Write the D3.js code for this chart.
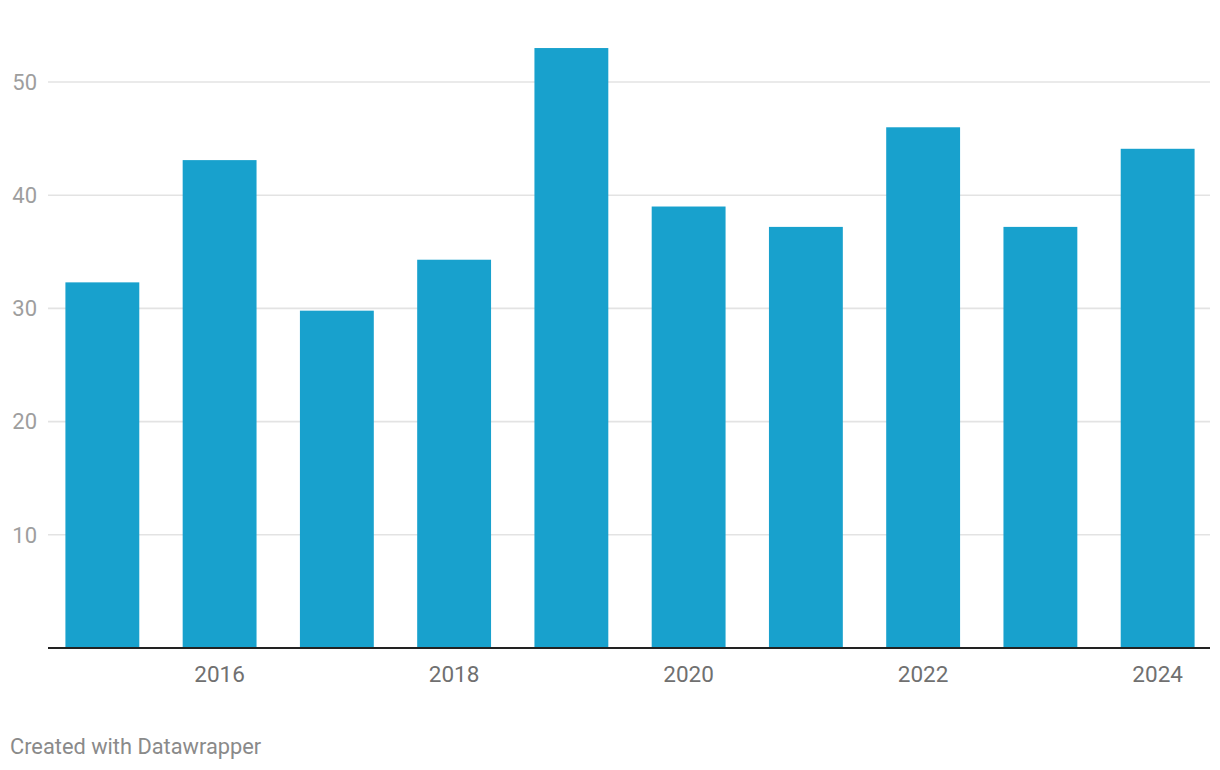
<!DOCTYPE html>
<html><head><meta charset="utf-8">
<script src="https://cdn.jsdelivr.net/npm/d3@7"></script>
<style>body{margin:0;background:#fff;}svg{display:block;font-family:Roboto,sans-serif;}</style>
</head><body>
<svg id="c" width="1220" height="770"></svg>
<script>
const years = ["2015","2016","2017","2018","2019","2020","2021","2022","2023","2024"];
const values = [32.3, 43.1, 29.8, 34.3, 53.0, 39.0, 37.2, 46.0, 37.2, 44.1];
const yTicks = [10, 20, 30, 40, 50];
const xTickLabels = ["2016","2018","2020","2022","2024"];

const svg = d3.select("#c");
const x = d3.scaleBand().domain(years).range([49, 1211]).paddingInner(0.37).paddingOuter(0.14);
const y = d3.scaleLinear().domain([0, 50]).range([648, 82]);

// gridlines
const g = svg.append("g");
g.selectAll("line.grid").data(yTicks).join("line")
  .attr("x1", 48).attr("x2", 1210)
  .attr("y1", d => y(d)).attr("y2", d => y(d))
  .attr("stroke", "#e3e3e3").attr("stroke-width", 1.6);
g.selectAll("text.yl").data(yTicks).join("text")
  .attr("x", 37).attr("y", d => y(d)).attr("dy", "0.35em")
  .attr("text-anchor", "end").attr("fill", "#9e9e9e").attr("font-size", 22)
  .text(d => d);

// bars
svg.append("g").selectAll("rect").data(years).join("rect")
  .attr("x", d => x(d)).attr("width", x.bandwidth())
  .attr("y", (d, i) => y(values[i])).attr("height", (d, i) => y(0) - y(values[i]))
  .attr("fill", "#18a1cd");

// baseline
svg.append("line").attr("x1", 48).attr("x2", 1210).attr("y1", y(0)).attr("y2", y(0))
  .attr("stroke", "#222").attr("stroke-width", 2);

// x labels
svg.append("g").selectAll("text").data(xTickLabels).join("text")
  .attr("x", d => x(d) + x.bandwidth() / 2).attr("y", 674).attr("dy", "0.35em")
  .attr("text-anchor", "middle").attr("fill", "#707070").attr("font-size", 22.5)
  .text(d => d);

svg.append("text").attr("x", 10).attr("y", 746).attr("dy", "0.35em")
  .attr("fill", "#8a8a8a").attr("font-size", 21.8).text("Created with Datawrapper");
</script>
</body></html>
